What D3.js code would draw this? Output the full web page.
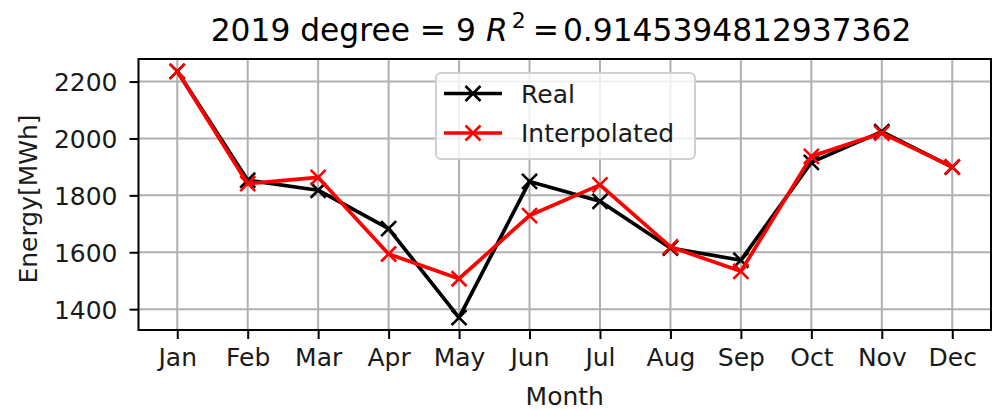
<!DOCTYPE html>
<html>
<head>
<meta charset="utf-8">
<script src="https://cdn.jsdelivr.net/npm/d3@7/dist/d3.min.js"></script>
<style>
	html, body { margin: 0; padding: 0; background: #fff; }
	svg { display: block; font-family: "DejaVu Sans", sans-serif; }
</style>
</head>
<body>
<svg id="chart" width="993" height="410"></svg>
<script>

// values
const months = ["Jan","Feb","Mar","Apr","May","Jun","Jul","Aug","Sep","Oct","Nov","Dec"]
const realValues = [2236, 1853, 1818, 1683, 1370, 1849, 1779, 1615, 1572, 1916, 2024, 1899]
const interpolatedValues = [2236, 1841, 1863, 1594, 1507, 1729, 1837, 1619, 1533, 1937, 2019, 1900]
const yTicks = [1400, 1600, 1800, 2000, 2200]
const seriesNames = ["Real", "Interpolated"]
const seriesColors = ["#000000", "#ff0000"]

const plot = {left: 138.5, right: 991, top: 59, bottom: 330}
const fontSize = 25
const tickLen = 9
const markerHalf = 7.5

let svg = d3.select("#chart")

// matplotlib style 5% margins
let yMin = d3.min(realValues.concat(interpolatedValues))
let yMax = d3.max(realValues.concat(interpolatedValues))
let yPad = (yMax - yMin) * 0.05
let xPad = (months.length - 1) * 0.05

let x = d3.scaleLinear()
	.domain([-xPad, months.length - 1 + xPad])
	.range([plot.left, plot.right])
let y = d3.scaleLinear()
	.domain([yMin - yPad, yMax + yPad])
	.range([plot.bottom, plot.top])

// grid
let grid = svg.append("g")
grid.selectAll(".gx").data(months).enter().append("line")
	.attr("x1", (d, i) => x(i)).attr("x2", (d, i) => x(i))
	.attr("y1", plot.top).attr("y2", plot.bottom)
	.attr("stroke", "#b0b0b0").attr("stroke-width", 2)
grid.selectAll(".gy").data(yTicks).enter().append("line")
	.attr("x1", plot.left).attr("x2", plot.right)
	.attr("y1", d => y(d)).attr("y2", d => y(d))
	.attr("stroke", "#b0b0b0").attr("stroke-width", 2)

// axes
let xAxis = d3.axisBottom(x)
	.tickValues(d3.range(months.length))
	.tickFormat(i => months[i])
	.tickSize(tickLen)
	.tickPadding(8)
let yAxis = d3.axisLeft(y)
	.tickValues(yTicks)
	.tickFormat(d3.format("d"))
	.tickSize(tickLen)
	.tickPadding(12)

let gx = svg.append("g")
	.attr("transform", "translate(0," + plot.bottom + ")")
	.call(xAxis)
let gy = svg.append("g")
	.attr("transform", "translate(" + plot.left + ",0)")
	.call(yAxis)

for (let g of [gx, gy]) {
	g.select(".domain").remove()
	g.selectAll(".tick line").attr("stroke", "#000").attr("stroke-width", 2)
	g.selectAll(".tick text")
		.attr("fill", "#1a1a1a")
		.style("font-size", fontSize + "px")
		.style("font-family", "DejaVu Sans")
}
gx.selectAll(".tick text").attr("dy", "0.76em")
gy.selectAll(".tick text").attr("dy", "0.36em")

// series
let line = d3.line()
	.x((d, i) => x(i))
	.y(d => y(d))

let allSeries = [realValues, interpolatedValues]
allSeries.forEach((values, s) => {
	let color = seriesColors[s]
	svg.append("path")
		.datum(values)
		.attr("d", line)
		.attr("fill", "none")
		.attr("stroke", color)
		.attr("stroke-width", 3.7)
		.attr("stroke-linejoin", "round")
		.attr("stroke-linecap", "butt")
	svg.append("g").selectAll("path").data(values).enter().append("path")
		.attr("d", (d, i) => {
			let cx = x(i), cy = y(d), m = markerHalf
			return "M" + (cx - m) + "," + (cy - m) + "L" + (cx + m) + "," + (cy + m) +
				"M" + (cx - m) + "," + (cy + m) + "L" + (cx + m) + "," + (cy - m)
		})
		.attr("stroke", color)
		.attr("stroke-width", 2.6)
		.attr("fill", "none")
})

// frame
svg.append("rect")
	.attr("x", plot.left).attr("y", plot.top)
	.attr("width", plot.right - plot.left)
	.attr("height", plot.bottom - plot.top)
	.attr("fill", "none")
	.attr("stroke", "#000")
	.attr("stroke-width", 2)

// legend
let legend = svg.append("g").attr("transform", "translate(436,73)")
legend.append("rect")
	.attr("width", 259).attr("height", 86)
	.attr("rx", 5).attr("ry", 5)
	.attr("fill", "#fff").attr("fill-opacity", 0.8)
	.attr("stroke", "#d0d0d0").attr("stroke-width", 2)
seriesNames.forEach((name, s) => {
	let rowY = 20.5 + s * 39.5
	let row = legend.append("g").attr("transform", "translate(0," + rowY + ")")
	row.append("line")
		.attr("x1", 8).attr("x2", 66)
		.attr("stroke", seriesColors[s]).attr("stroke-width", 3.7)
	let m = markerHalf, cx = 37
	row.append("path")
		.attr("d", "M" + (cx - m) + "," + (-m) + "L" + (cx + m) + "," + m +
			"M" + (cx - m) + "," + m + "L" + (cx + m) + "," + (-m))
		.attr("stroke", seriesColors[s]).attr("stroke-width", 2.6)
	row.append("text")
		.attr("x", 85)
		.attr("dy", "0.36em")
		.attr("fill", "#1a1a1a")
		.style("font-size", fontSize + "px")
		.text(name)
})

// labels
svg.append("text")
	.attr("x", (plot.left + plot.right) / 2)
	.attr("y", 405)
	.attr("text-anchor", "middle")
	.attr("fill", "#1a1a1a")
	.style("font-size", fontSize + "px")
	.text("Month")

svg.append("text")
	.attr("transform", "translate(36.5,199) rotate(-90)")
	.attr("text-anchor", "middle")
	.attr("fill", "#1a1a1a")
	.style("font-size", fontSize + "px")
	.text("Energy[MWh]")

let title = svg.append("text")
	.attr("x", 561)
	.attr("y", 41)
	.attr("text-anchor", "middle")
	.attr("fill", "#000")
	.style("font-size", "31.3px")
title.append("tspan").text("2019 degree = 9 ")
title.append("tspan").style("font-style", "italic").text("R")
title.append("tspan").attr("dy", -13).attr("dx", 4).style("font-size", "22px").text("2")
title.append("tspan").attr("dy", 13).attr("dx", 7).text("=")
title.append("tspan").attr("dx", 4).text("0.9145394812937362")

</script>
</body>
</html>
